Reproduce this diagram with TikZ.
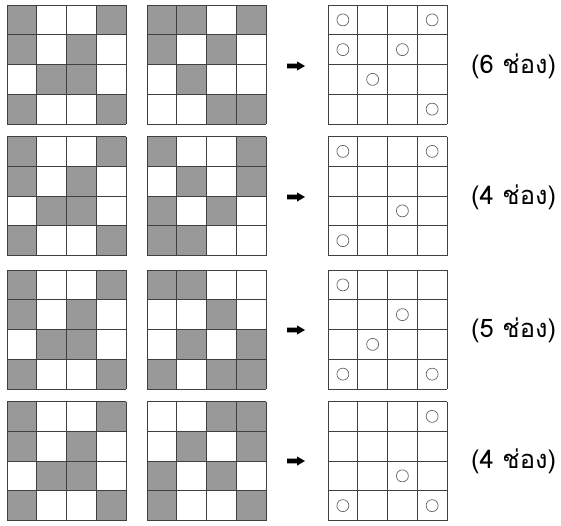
\documentclass[tikz,border=0pt]{standalone}
\usepackage{fontspec}
\newfontfamily\thaifont[Script=Thai]{Loma}
\begin{document}
\begin{tikzpicture}[x=1pt,y=-1pt,
  gridline/.style={draw=black!75,line width=0.9pt},
  shadecell/.style={fill=black!40},
  ring/.style={draw=black!60,line width=0.7pt},
  arrowglyph/.style={fill=black},
  lbl/.style={font=\thaifont\fontsize{25.5}{28}\selectfont,anchor=west,inner sep=0pt}]
\useasboundingbox (0,0) rectangle (561,525);
\def\cs{29.75}
\newcommand\mylines[2]{%
  \foreach \i in {0,...,4} {
    \draw[gridline] ({#1+\i*\cs},#2) -- +(0,{4*\cs});
    \draw[gridline] (#1,{#2+\i*\cs}) -- +({4*\cs},0);
  }}
\newcommand\mygrid[3]{%
  \foreach \r/\c in #3 {\fill[shadecell] ({#1+(\c-1)*\cs},{#2+(\r-1)*\cs}) rectangle +(\cs,\cs);}
  \mylines{#1}{#2}}
\newcommand\myrings[3]{%
  \foreach \r/\c in #3 {\draw[ring] ({#1+(\c-0.5)*\cs},{#2+(\r-0.5)*\cs}) circle[radius=6];}}
\newcommand\myarrow[1]{%
  \fill[arrowglyph] (287,{#1-2.3}) -- (297,{#1-2.3}) -- (297,{#1-4.6}) -- (305,#1) -- (297,{#1+4.6}) -- (297,{#1+2.3}) -- (287,{#1+2.3}) -- cycle;}
\def\leftpat{1/1,1/4,2/1,2/3,3/2,3/3,4/1,4/4}
% row 1
\mygrid{7}{5}{\leftpat}
\mygrid{147}{5}{{1/1,1/2,1/4,2/1,2/3,3/2,4/3,4/4}}
\myarrow{66}
\mylines{328}{5}
\myrings{328}{5}{{1/1,1/4,2/1,2/3,3/2,4/4}}
\node[lbl] (l1) at (471,66) {(6 ช่อง)};
% row 2
\mygrid{7}{136.5}{\leftpat}
\mygrid{147}{136.5}{{1/1,1/4,2/2,2/4,3/1,3/3,4/1,4/2}}
\myarrow{197}
\mylines{328}{136.5}
\myrings{328}{136.5}{{1/1,1/4,3/3,4/1}}
\node[lbl] (l2) at (471,197) {(4 ช่อง)};
% row 3
\mygrid{7}{270}{\leftpat}
\mygrid{147}{270}{{1/1,1/2,2/3,3/2,3/4,4/1,4/3,4/4}}
\myarrow{330}
\mylines{328}{270}
\myrings{328}{270}{{1/1,2/3,3/2,4/1,4/4}}
\node[lbl] (l3) at (471,330) {(5 ช่อง)};
% row 4
\mygrid{7}{401.5}{\leftpat}
\mygrid{147}{401.5}{{1/3,1/4,2/2,2/4,3/1,3/3,4/1,4/4}}
\myarrow{461}
\mylines{328}{401.5}
\myrings{328}{401.5}{{1/4,3/3,4/1,4/4}}
\node[lbl] (l4) at (471,461) {(4 ช่อง)};
\end{tikzpicture}
\end{document}
